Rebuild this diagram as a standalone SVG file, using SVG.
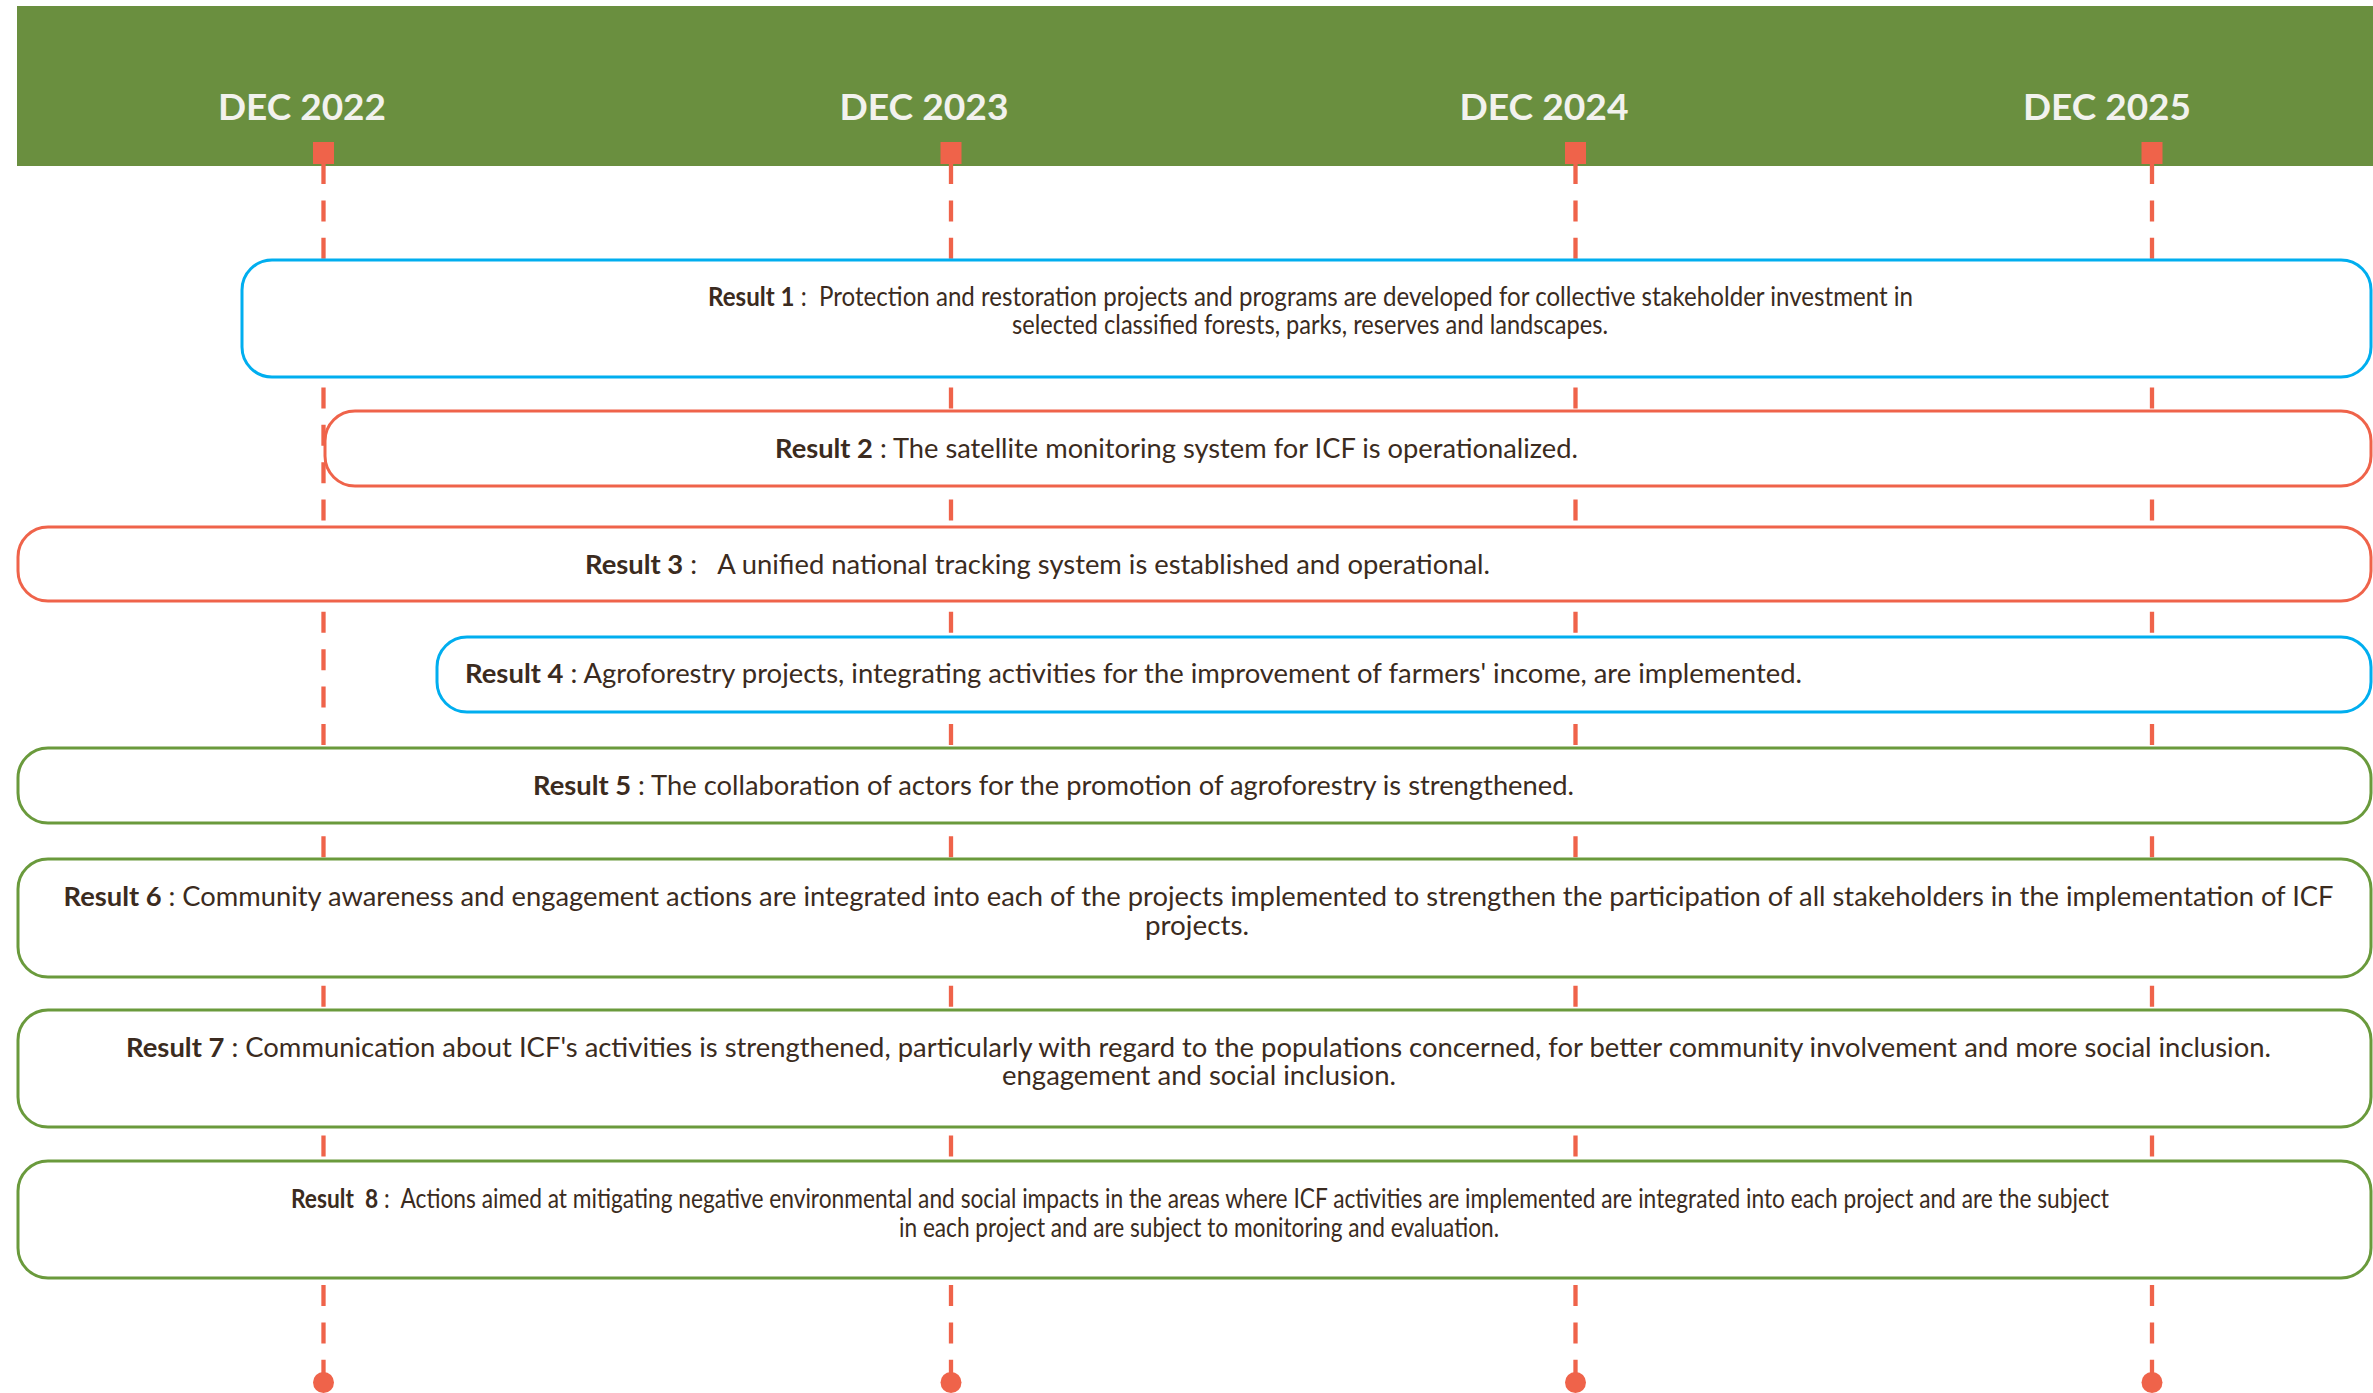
<svg xmlns="http://www.w3.org/2000/svg" width="2373" height="1393" viewBox="0 0 2373 1393">
  <style>
    .band { fill: #6a8f3f; }
    .year { font-family: Lato, "Open Sans", "Liberation Sans", sans-serif; font-weight: 700; font-size: 36px; fill: #f2f2ee; text-anchor: middle; }
    .tick { fill: #ef634a; }
    .vline { stroke: #ef634a; stroke-width: 4.3; stroke-dasharray: 21 16.4; fill: none; }
    .dot { fill: #ef634a; }
    .box { fill: #ffffff; stroke-width: 3; }
    .blue { stroke: #00aeef; }
    .orange { stroke: #ef634a; }
    .green { stroke: #6a9a3c; }
    .t { font-family: Lato, "Open Sans", "Liberation Sans", sans-serif; font-size: 26px; fill: #3b2b20; white-space: pre; }
    .b { font-weight: 700; }
  </style>

  <g id="header">
    <rect class="band" x="17" y="6" width="2356" height="160"/>
    <text class="year" x="302" y="120" textLength="168" lengthAdjust="spacingAndGlyphs">DEC 2022</text>
    <text class="year" x="924" y="120" textLength="169" lengthAdjust="spacingAndGlyphs">DEC 2023</text>
    <text class="year" x="1544" y="120" textLength="169" lengthAdjust="spacingAndGlyphs">DEC 2024</text>
    <text class="year" x="2107" y="120" textLength="168" lengthAdjust="spacingAndGlyphs">DEC 2025</text>
  </g>

  <g id="connectors">
    <line class="vline" x1="323.5" y1="163" x2="323.5" y2="1380"/>
    <line class="vline" x1="951" y1="163" x2="951" y2="1380"/>
    <line class="vline" x1="1575.5" y1="163" x2="1575.5" y2="1380"/>
    <line class="vline" x1="2152" y1="163" x2="2152" y2="1380"/>
    <rect class="tick" x="313" y="142" width="21" height="22"/>
    <rect class="tick" x="940.5" y="142" width="21" height="22"/>
    <rect class="tick" x="1565" y="142" width="21" height="22"/>
    <rect class="tick" x="2141.5" y="142" width="21" height="22"/>
    <circle class="dot" cx="323.5" cy="1382.5" r="10.5"/>
    <circle class="dot" cx="951" cy="1382.5" r="10.5"/>
    <circle class="dot" cx="1575.5" cy="1382.5" r="10.5"/>
    <circle class="dot" cx="2152" cy="1382.5" r="10.5"/>
  </g>

  <g id="result1">
    <rect class="box blue" x="242" y="260" width="2129" height="117" rx="30" ry="30"/>
    <text class="t" x="708" y="306" textLength="1205" lengthAdjust="spacingAndGlyphs"><tspan class="b">Result 1</tspan> :  Protection and restoration projects and programs are developed for collective stakeholder investment in</text>
    <text class="t" x="1012" y="334" textLength="596" lengthAdjust="spacingAndGlyphs">selected classified forests, parks, reserves and landscapes.</text>
  </g>

  <g id="result2">
    <rect class="box orange" x="325" y="411" width="2046" height="75" rx="30" ry="30"/>
    <text class="t" x="775" y="458" textLength="803" lengthAdjust="spacingAndGlyphs"><tspan class="b">Result 2</tspan> : The satellite monitoring system for ICF is operationalized.</text>
  </g>

  <g id="result3">
    <rect class="box orange" x="18" y="527" width="2353" height="74" rx="30" ry="30"/>
    <text class="t" x="585" y="574" textLength="905" lengthAdjust="spacingAndGlyphs"><tspan class="b">Result 3</tspan> :   A unified national tracking system is established and operational.</text>
  </g>

  <g id="result4">
    <rect class="box blue" x="437" y="637" width="1934" height="75" rx="30" ry="30"/>
    <text class="t" x="465" y="683" textLength="1337" lengthAdjust="spacingAndGlyphs"><tspan class="b">Result 4</tspan> : Agroforestry projects, integrating activities for the improvement of farmers' income, are implemented.</text>
  </g>

  <g id="result5">
    <rect class="box green" x="18" y="748" width="2353" height="75" rx="30" ry="30"/>
    <text class="t" x="533" y="795" textLength="1041" lengthAdjust="spacingAndGlyphs"><tspan class="b">Result 5</tspan> : The collaboration of actors for the promotion of agroforestry is strengthened.</text>
  </g>

  <g id="result6">
    <rect class="box green" x="18" y="859" width="2353" height="118" rx="30" ry="30"/>
    <text class="t" x="63.5" y="906" textLength="2270" lengthAdjust="spacingAndGlyphs"><tspan class="b">Result 6</tspan> : Community awareness and engagement actions are integrated into each of the projects implemented to strengthen the participation of all stakeholders in the implementation of ICF</text>
    <text class="t" x="1145" y="935" textLength="104" lengthAdjust="spacingAndGlyphs">projects.</text>
  </g>

  <g id="result7">
    <rect class="box green" x="18" y="1010" width="2353" height="117" rx="30" ry="30"/>
    <text class="t" x="126" y="1057" textLength="2145" lengthAdjust="spacingAndGlyphs"><tspan class="b">Result 7</tspan> : Communication about ICF's activities is strengthened, particularly with regard to the populations concerned, for better community involvement and more social inclusion.</text>
    <text class="t" x="1002" y="1085" textLength="394" lengthAdjust="spacingAndGlyphs">engagement and social inclusion.</text>
  </g>

  <g id="result8">
    <rect class="box green" x="18" y="1161" width="2353" height="117" rx="30" ry="30"/>
    <text class="t" x="291" y="1208" textLength="1818" lengthAdjust="spacingAndGlyphs"><tspan class="b">Result  8</tspan> :  Actions aimed at mitigating negative environmental and social impacts in the areas where ICF activities are implemented are integrated into each project and are the subject</text>
    <text class="t" x="899" y="1237" textLength="600" lengthAdjust="spacingAndGlyphs">in each project and are subject to monitoring and evaluation.</text>
  </g>
</svg>
